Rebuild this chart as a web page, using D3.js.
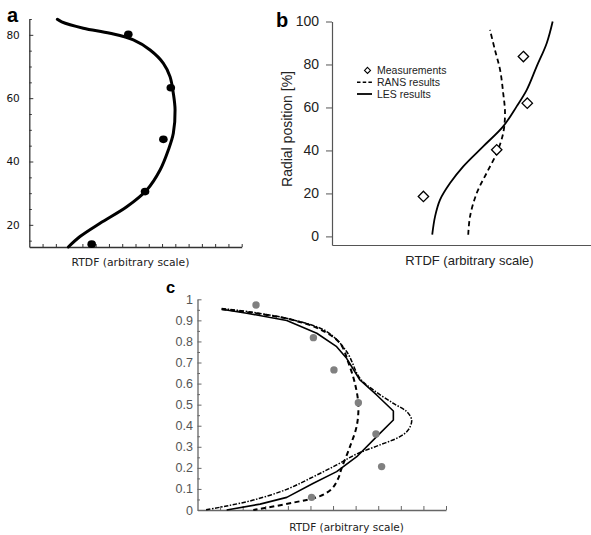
<!DOCTYPE html>
<html><head><meta charset="utf-8">
<script src="https://cdn.jsdelivr.net/npm/d3@7"></script>
<style>
html,body{margin:0;padding:0;background:#fff;}
svg{display:block;}
</style></head>
<body>
<script>
// ---------- Panel a data ----------
const aCurveX = [2.11,2.44,4.07,6.08,7.84,9.1,10.1,10.6,10.85,10.98,10.85,10.47,9.85,8.85,7.34,5.33,3.82,2.94];
const aCurveY = [84.9,84.1,82.1,80.5,78.4,75.2,71.0,66.8,61.5,56.3,48.9,43.6,37.3,31.0,25.7,20.5,16.3,13.0];
const aDotX = [7.46,10.66,10.1,8.72,4.70];
const aDotY = [80.2,63.3,47.0,30.5,13.9];
const aYTicks = [20,40,60,80];

// ---------- Panel b data ----------
const bLesX = [38.7,39.8,41.7,45.6,50.7,58.4,66.1,71.3,75.2,79.0,82.9,85.2];
const bLesY = [0.8,9.3,17,24.8,32.6,41.9,51.2,60.5,68.2,79,89.9,100];
const bRansX = [52.6,53.3,55.9,59.7,63.6,66.1,66.8,66.1,64.9,62.9,61.0];
const bRansY = [0.8,9.3,20.2,29.5,38.8,48.1,57.4,66.7,77.5,86.8,96.1];
const bMeasX = [35.3,63.6,75.4,73.9];
const bMeasY = [18.6,40.3,62,83.7];
const bYTicks = [0,20,40,60,80,100];
const bLegend = ["Measurements","RANS results","LES results"];

// ---------- Panel c data ----------
const cSolidX = [1.07,2.18,3.95,5.28,6.16,6.60,7.19,7.93,8.67,8.67,7.93,7.05,6.16,5.13,3.95,2.77,1.29];
const cSolidY = [0.953,0.934,0.899,0.839,0.775,0.720,0.617,0.546,0.470,0.427,0.348,0.253,0.182,0.127,0.060,0.028,0];
const cDashX = [1.07,2.32,4.09,5.42,6.31,6.68,6.97,7.12,7.05,6.75,6.38,6.23,5.94,5.42,4.24,2.47];
const cDashY = [0.953,0.937,0.905,0.858,0.791,0.699,0.600,0.500,0.400,0.301,0.199,0.150,0.100,0.066,0.035,0];
const cDotDashX = [1.07,2.47,4.24,5.72,6.60,7.19,7.78,8.67,9.26,9.48,9.33,8.96,8.08,7.05,6.16,5.13,3.95,2.47,1.29,0.33];
const cDotDashY = [0.956,0.938,0.902,0.847,0.752,0.625,0.570,0.506,0.467,0.427,0.380,0.348,0.309,0.266,0.214,0.158,0.098,0.047,0.019,0];
const cDotX = [2.59,5.13,6.04,7.12,7.90,8.15,5.05];
const cDotY = [0.973,0.818,0.665,0.509,0.361,0.206,0.060];
const cYTicks = [0,0.1,0.2,0.3,0.4,0.5,0.6,0.7,0.8,0.9,1];

const xLabel = "RTDF (arbitrary scale)";

const svg = d3.select("body").append("svg").attr("width",591).attr("height",535);
const zip = (xs,ys)=>xs.map((x,i)=>[x,ys[i]]);

// ===================== Panel a =====================
{
  const L=29.3,R=241.7,T=19,B=247;
  const x=d3.scaleLinear().domain([0,16]).range([L,R]);
  const y=d3.scaleLinear().domain([13,85]).range([B,T]);
  const g=svg.append("g");
  const ax=g.append("g").attr("transform",`translate(${L},0)`)
    .call(d3.axisLeft(y).tickValues(aYTicks).tickSize(-4).tickPadding(9.5).tickSizeOuter(0).tickFormat(d3.format("d")));
  ax.selectAll("text").attr("font-family","DejaVu Sans").attr("font-size",10.5).attr("fill","#111");
  ax.select(".domain").attr("stroke","#333").attr("stroke-width",1.3);
  ax.selectAll(".tick line").attr("stroke","#333");
  const minor=d3.range(15,86,5).filter(v=>!aYTicks.includes(v));
  const am=g.append("g").attr("transform",`translate(${L},0)`)
    .call(d3.axisLeft(y).tickValues(minor).tickSize(-2.5).tickFormat(""));
  am.select(".domain").remove(); am.selectAll(".tick line").attr("stroke","#333");
  const bx=g.append("g").attr("transform",`translate(0,${B})`)
    .call(d3.axisBottom(x).tickValues(d3.range(1,17)).tickSize(-3).tickSizeOuter(0).tickFormat(""));
  bx.select(".domain").attr("stroke","#333").attr("stroke-width",1.3);
  bx.selectAll(".tick line").attr("stroke","#333");
  g.append("path").datum(zip(aCurveX,aCurveY))
    .attr("d",d3.line().x(d=>x(d[0])).y(d=>y(d[1])).curve(d3.curveCatmullRom.alpha(0.5)))
    .attr("fill","none").attr("stroke","#000").attr("stroke-width",3).attr("stroke-linecap","round");
  g.selectAll("ellipse").data(zip(aDotX,aDotY)).join("ellipse")
    .attr("cx",d=>x(d[0])).attr("cy",d=>y(d[1])).attr("rx",4.3).attr("ry",3.8).attr("fill","#000");
  g.append("text").attr("x",(L+R)/2-5).attr("y",266).attr("text-anchor","middle")
    .attr("font-family","DejaVu Sans").attr("font-size",10.8).attr("fill","#222").text(xLabel);
  g.append("text").attr("x",7).attr("y",21.5).attr("font-family","Liberation Sans, Arial").attr("font-weight","bold")
    .attr("font-size",20).text("a");
}

// ===================== Panel b =====================
{
  const L=332,R=591,T=21.5,B=245;
  const x=d3.scaleLinear().domain([0,100]).range([L,R]);
  const y=d3.scaleLinear().domain([-4,100]).range([B,T]);
  const g=svg.append("g");
  const ax=g.append("g").attr("transform",`translate(${L},0)`)
    .call(d3.axisLeft(y).tickValues(bYTicks).tickSize(6).tickPadding(7).tickSizeOuter(0));
  ax.selectAll("text").attr("font-family","Liberation Sans, Arial").attr("font-size",14).attr("fill","#222");
  ax.select(".domain").attr("stroke","#555").attr("stroke-width",1.2);
  ax.selectAll(".tick line").attr("stroke","#555");
  const bx=g.append("g").attr("transform",`translate(0,${B})`)
    .call(d3.axisBottom(x).tickValues([]).tickSizeOuter(0));
  bx.select(".domain").attr("stroke","#555").attr("stroke-width",1.2);
  const line=d3.line().x(d=>x(d[0])).y(d=>y(d[1])).curve(d3.curveCatmullRom.alpha(0.5));
  g.append("path").datum(zip(bRansX,bRansY)).attr("d",line)
    .attr("fill","none").attr("stroke","#000").attr("stroke-width",1.8).attr("stroke-dasharray","5,3.5");
  g.append("path").datum(zip(bLesX,bLesY)).attr("d",line)
    .attr("fill","none").attr("stroke","#000").attr("stroke-width",1.8);
  const dia=(cx,cy,r)=>`M${cx},${cy-r}L${cx+r},${cy}L${cx},${cy+r}L${cx-r},${cy}Z`;
  g.selectAll("path.m").data(zip(bMeasX,bMeasY)).join("path").attr("class","m")
    .attr("d",d=>dia(x(d[0]),y(d[1]),5.2)).attr("fill","#fff").attr("stroke","#000").attr("stroke-width",1.3);
  // legend
  const lx=367.5, ly=[74,85.8,97.6];
  g.append("path").attr("d",dia(lx,ly[0]-3.6,3)).attr("fill","#fff").attr("stroke","#000").attr("stroke-width",1.1);
  g.append("line").attr("x1",357).attr("x2",372).attr("y1",ly[1]-3.6).attr("y2",ly[1]-3.6)
    .attr("stroke","#000").attr("stroke-width",1.6).attr("stroke-dasharray","3.5,2.2");
  g.append("line").attr("x1",357).attr("x2",372).attr("y1",ly[2]-3.6).attr("y2",ly[2]-3.6)
    .attr("stroke","#000").attr("stroke-width",1.8);
  bLegend.forEach((t,i)=>g.append("text").attr("x",377).attr("y",ly[i])
    .attr("font-family","Liberation Sans, Arial").attr("font-size",10.5).attr("fill","#222").text(t));
  g.append("text").attr("x",469.5).attr("y",265).attr("text-anchor","middle")
    .attr("font-family","Liberation Sans, Arial").attr("font-size",13).attr("fill","#222").text(xLabel);
  g.append("text").attr("transform","translate(291.5,129) rotate(-90)").attr("text-anchor","middle")
    .attr("font-family","Liberation Sans, Arial").attr("font-size",14).attr("fill","#222").text("Radial position [%]");
  g.append("text").attr("x",276).attr("y",26.5).attr("font-family","Liberation Sans, Arial").attr("font-weight","bold")
    .attr("font-size",20).text("b");
}

// ===================== Panel c =====================
{
  const L=197.5,R=446,T=299.3,B=510;
  const x=d3.scaleLinear().domain([0,11]).range([L,R]);
  const y=d3.scaleLinear().domain([0,1]).range([B,T]);
  const g=svg.append("g");
  const fmt=d=>(d===0||d===1)?String(d):d3.format(".1f")(d);
  const ax=g.append("g").attr("transform",`translate(${L},0)`)
    .call(d3.axisLeft(y).tickValues(cYTicks).tickSize(-4).tickPadding(4.5).tickSizeOuter(0).tickFormat(fmt));
  ax.selectAll("text").attr("font-family","Liberation Sans, Arial").attr("font-size",12.5).attr("fill","#555");
  ax.select(".domain").attr("stroke","#666").attr("stroke-width",1.3);
  ax.selectAll(".tick line").attr("stroke","#666");
  const minor=d3.range(0.05,1,0.1);
  const am=g.append("g").attr("transform",`translate(${L},0)`)
    .call(d3.axisLeft(y).tickValues(minor).tickSize(-2.5).tickFormat(""));
  am.select(".domain").remove(); am.selectAll(".tick line").attr("stroke","#666");
  const bx=g.append("g").attr("transform",`translate(0,${B})`)
    .call(d3.axisBottom(x).tickValues(d3.range(1,12)).tickSize(-4).tickSizeOuter(0).tickFormat(""));
  bx.select(".domain").attr("stroke","#666").attr("stroke-width",1.3);
  bx.selectAll(".tick line").attr("stroke","#666");
  const smooth=d3.line().x(d=>x(d[0])).y(d=>y(d[1])).curve(d3.curveCatmullRom.alpha(0.5));
  const lin=d3.line().x(d=>x(d[0])).y(d=>y(d[1]));
  g.append("path").datum(zip(cDotDashX,cDotDashY)).attr("d",smooth)
    .attr("fill","none").attr("stroke","#000").attr("stroke-width",1.5).attr("stroke-dasharray","4.5,1.5,1.5,1.5");
  g.append("path").datum(zip(cDashX,cDashY)).attr("d",smooth)
    .attr("fill","none").attr("stroke","#000").attr("stroke-width",2).attr("stroke-dasharray","5,3.5");
  g.append("path").datum(zip(cSolidX,cSolidY)).attr("d",lin)
    .attr("fill","none").attr("stroke","#000").attr("stroke-width",1.6).attr("stroke-linejoin","round");
  g.selectAll("circle").data(zip(cDotX,cDotY)).join("circle")
    .attr("cx",d=>x(d[0])).attr("cy",d=>y(d[1])).attr("r",3.7).attr("fill","#808080");
  g.append("text").attr("x",346.5).attr("y",531).attr("text-anchor","middle")
    .attr("font-family","DejaVu Sans").attr("font-size",10.5).attr("fill","#222").text(xLabel);
  g.append("text").attr("x",166).attr("y",293.3).attr("font-family","Liberation Sans, Arial").attr("font-weight","bold")
    .attr("font-size",16.5).text("c");
}
</script>
</body></html>
